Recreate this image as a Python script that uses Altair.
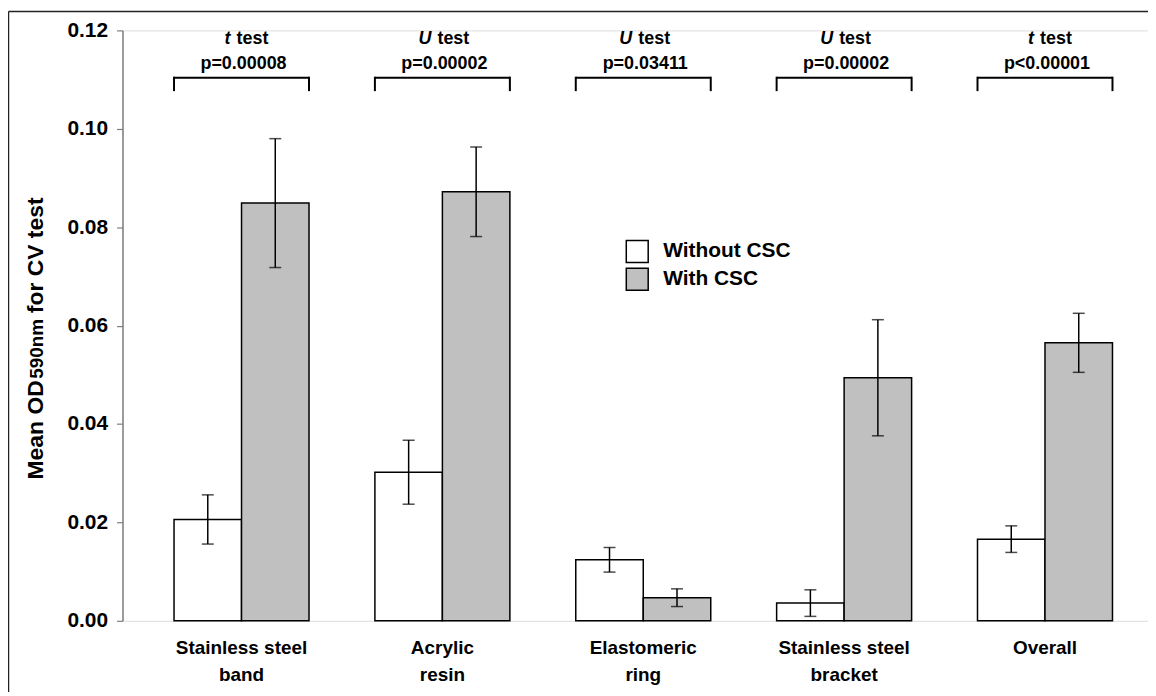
import altair as alt
import pandas as pd

# ---- data ----
categories = ["Stainless steel|band", "Acrylic|resin", "Elastomeric|ring",
              "Stainless steel|bracket", "Overall"]
groups = ["Without CSC", "With CSC"]
without_mean = [0.0206, 0.0302, 0.0124, 0.0036, 0.0166]
without_err = [0.0050, 0.0065, 0.0025, 0.0027, 0.0027]
with_mean = [0.0849, 0.0872, 0.0047, 0.0494, 0.0565]
with_err = [0.0131, 0.0091, 0.0018, 0.0118, 0.0060]
test_type = ["t", "U", "U", "U", "t"]
p_text = ["p=0.00008", "p=0.00002", "p=0.03411", "p=0.00002", "p<0.00001"]
y_ticks = [0.0, 0.02, 0.04, 0.06, 0.08, 0.10, 0.12]
y_title_parts = ["Mean OD", "590nm", "for CV test"]

rows = []
for i, c in enumerate(categories):
    rows.append(dict(cat=c, grp=groups[0], mean=without_mean[i],
                     lo=without_mean[i] - without_err[i], hi=without_mean[i] + without_err[i]))
    rows.append(dict(cat=c, grp=groups[1], mean=with_mean[i],
                     lo=with_mean[i] - with_err[i], hi=with_mean[i] + with_err[i]))
df = pd.DataFrame(rows)
ann = pd.DataFrame(dict(cat=categories, test=test_type, p=p_text))
one = pd.DataFrame({"k": [0]})

FONT = "Liberation Sans"

xscale = alt.Scale(domain=categories, paddingInner=0.328, paddingOuter=0.2167, align=0.592)
yscale = alt.Scale(domain=[0, 0.12], nice=False, zero=True)
xaxis = alt.Axis(title=None, labelExpr="split(datum.label, '|')", labelAngle=0,
                 domain=False, ticks=False, tickSize=0, labelPadding=18,
                 labelFontSize=19, labelFontWeight="bold", labelLineHeight=27,
                 labelColor="black", labelFont=FONT)
yaxis = alt.Axis(title=None, values=y_ticks, format=".2f", tickSize=6,
                 tickColor="#7f7f7f", domainColor="#7f7f7f", domainWidth=1.5,
                 tickWidth=1.2, labelPadding=9, labelFontSize=21,
                 labelFontWeight="bold", labelFont=FONT, labelColor="black", grid=False)

X = alt.X("cat:N", scale=xscale, axis=xaxis)
XO = alt.XOffset("grp:N", scale=alt.Scale(domain=groups, paddingInner=0, paddingOuter=0))
Y = alt.Y("mean:Q", scale=yscale, axis=yaxis)

bars = alt.Chart(df).mark_bar(stroke="black", strokeWidth=1.5).encode(
    x=X, xOffset=XO, y=Y,
    fill=alt.Fill("grp:N", scale=alt.Scale(domain=groups, range=["white", "#c0c0c0"]),
                  legend=alt.Legend(title=None, orient="none", legendX=505, legendY=210,
                                    symbolType="square", symbolSize=484,
                                    symbolStrokeColor="black", symbolStrokeWidth=1.5,
                                    labelFontSize=21, labelFontWeight="bold",
                                    labelFont=FONT, labelColor="black",
                                    labelOffset=14, rowPadding=0, padding=0)),
)

err = alt.Chart(df).mark_rule(color="black", strokeWidth=1.5).encode(
    x=X, xOffset=XO, y=alt.Y("lo:Q", scale=yscale, axis=yaxis), y2="hi:Q")
cap_lo = alt.Chart(df).mark_tick(color="black", size=12, thickness=1.5, orient="horizontal").encode(
    x=X, xOffset=XO, y=alt.Y("lo:Q", scale=yscale, axis=yaxis))
cap_hi = alt.Chart(df).mark_tick(color="black", size=12, thickness=1.5, orient="horizontal").encode(
    x=X, xOffset=XO, y=alt.Y("hi:Q", scale=yscale, axis=yaxis))

txt = dict(fontSize=18, fontWeight="bold", font=FONT, color="black")
prefix = alt.Chart(ann).mark_text(align="right", dx=-11, fontStyle="italic", baseline="alphabetic", **txt).encode(
    x=X, y=alt.value(14), text="test:N")
test_word = alt.Chart(ann).mark_text(align="left", dx=-5, baseline="alphabetic", **txt).encode(
    x=X, y=alt.value(14), text=alt.value("test"))
pval = alt.Chart(ann).mark_text(align="center", dx=2, baseline="alphabetic", **txt).encode(
    x=X, y=alt.value(39), text="p:N")

br_top = alt.Chart(ann).mark_bar(color="black").encode(
    x=X, y=alt.value(46.5), y2=alt.value(48.5))
br_left = alt.Chart(ann).mark_rule(color="black", strokeWidth=2).encode(
    x=alt.X("cat:N", scale=xscale, axis=xaxis, bandPosition=0), y=alt.value(46.5), y2=alt.value(61))
br_right = alt.Chart(ann).mark_rule(color="black", strokeWidth=2).encode(
    x=alt.X("cat:N", scale=xscale, axis=xaxis, bandPosition=1), y=alt.value(46.5), y2=alt.value(61))

tstyle = dict(angle=270, align="left", baseline="alphabetic", fontWeight="bold", font=FONT, color="black")
t1 = alt.Chart(one).mark_text(fontSize=23, **tstyle).encode(
    x=alt.value(-80), y=alt.value(451), text=alt.value(y_title_parts[0]))
t2 = alt.Chart(one).mark_text(fontSize=19, **tstyle).encode(
    x=alt.value(-80), y=alt.value(350), text=alt.value(y_title_parts[1]))
t3 = alt.Chart(one).mark_text(fontSize=23, **tstyle).encode(
    x=alt.value(-80), y=alt.value(284), text=alt.value(y_title_parts[2]))

border_top = alt.Chart(one).mark_rule(color="#222", strokeWidth=1.5).encode(
    x=alt.value(-114.5), x2=alt.value(1040), y=alt.value(-19))
border_left = alt.Chart(one).mark_rule(color="#222", strokeWidth=1.5).encode(
    x=alt.value(-114.5), y=alt.value(-19), y2=alt.value(700))

chart = alt.layer(
    bars, err, cap_lo, cap_hi, prefix, test_word, pval, br_top, br_left, br_right,
    t1, t2, t3, border_top, border_left
).properties(
    width=1030, height=593,
    autosize=alt.AutoSizeParams(type="none"),
    padding={"left": 115, "top": 21, "right": 0, "bottom": 70},
    background="white",
).configure_view(stroke="transparent").configure(font=FONT)

chart.save("out.html", embed_options={"renderer": "svg", "actions": False})
